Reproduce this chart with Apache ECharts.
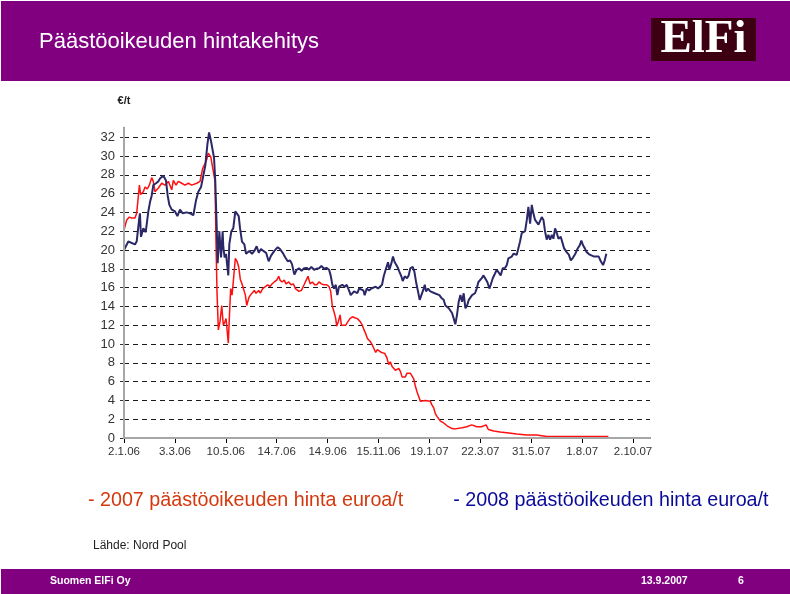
<!DOCTYPE html>
<html><head><meta charset="utf-8">
<script src="https://cdn.jsdelivr.net/npm/echarts@6/dist/echarts.min.js"></script>
<style>html,body{margin:0;padding:0;background:#fff}#c{width:790px;height:594px}</style>
</head><body><div id="c"></div><script>
// x = trading-day index from 2.1.06; labels every 45 trading days
var xTickLabels = ['2.1.06','3.3.06','10.5.06','14.7.06','14.9.06','15.11.06','19.1.07','22.3.07','31.5.07','1.8.07','2.10.07'];
var xTickStep = 45;
var xLastDay = 465;
var yTicks = [0,2,4,6,8,10,12,14,16,18,20,22,24,26,28,30,32];
var yTop = 33;
var name2007 = '2007 päästöoikeuden hinta euroa/t';
var name2008 = '2008 päästöoikeuden hinta euroa/t';

var price2007 = [
[0,22.1],[2.4,23.2],[4.7,23.5],[6.8,23.4],[9.7,23.4],[11.2,23.9],[13.6,26.9],[14.7,25.9],[17.1,26.2],[18.6,26.7],[20.6,26.5],[22.4,26.9],[24.5,27.7],[25.9,27.3],[27.4,26.2],[30.4,26.6],[33.3,27.1],[36.3,26.9],[39.2,27.3],[42.2,26.4],[43.6,27.4],[46.0,26.9],[48.0,27.3],[51.0,27.1],[53.9,26.9],[56.9,27.1],[59.8,26.9],[64.3,27.1],[67.2,27.3],[69.6,28.7],[71.6,29.2],[73.1,29.6],[74.5,30.3],[76.7,29.9],[78.4,29.8],[80.5,27.3],[81.3,20.9],[82.2,15.6],[83.4,11.5],[84.9,12.4],[86.4,14.1],[87.8,12.0],[89.3,12.4],[90.2,12.7],[91.4,12.9],[92.2,10.1],[93.1,12.7],[94.3,15.9],[95.5,15.2],[96.6,16.6],[98.4,19.1],[99.9,18.8],[101.4,18.2],[102.8,16.9],[104.3,16.4],[105.8,16.3],[107.3,15.2],[108.5,14.1],[110.3,14.9],[111.7,15.2],[113.2,15.0],[115.2,15.7],[116.7,15.4],[119.1,15.7],[120.5,15.4],[122.6,15.9],[125.0,16.1],[127.1,16.3],[129.1,16.1],[130.9,16.4],[132.9,16.6],[135.0,16.8],[136.8,17.2],[137.9,16.8],[139.7,16.6],[141.7,16.8],[143.2,16.4],[145.6,16.6],[147.7,16.3],[149.7,16.4],[151.5,15.9],[152.7,15.9],[154.7,15.6],[156.8,15.7],[159.2,16.3],[161.5,16.9],[162.7,17.2],[164.5,16.4],[166.5,16.6],[168.6,16.3],[170.4,16.3],[172.4,16.6],[174.5,16.4],[176.8,16.3],[179.2,16.3],[181.3,16.1],[182.7,15.6],[184.2,14.0],[185.7,13.4],[187.2,12.7],[188.0,11.9],[189.5,12.4],[191.0,13.1],[192.2,12.0],[193.9,12.2],[196.0,12.0],[198.1,12.4],[199.8,12.7],[201.9,12.9],[204.0,12.8],[206.3,12.7],[208.7,12.4],[210.7,12.0],[212.2,11.5],[213.7,11.1],[215.1,10.6],[217.5,10.3],[219.5,9.9],[221.0,9.5],[222.5,9.1],[224.0,9.4],[225.5,9.2],[227.5,9.1],[230.5,9.0],[232.5,8.5],[234.0,7.8],[235.4,8.1],[237.0,7.6],[238.5,7.8],[239.9,7.2],[241.4,7.1],[242.9,7.4],[244.3,7.1],[245.8,6.5],[247.3,6.7],[248.7,6.5],[250.2,6.9],[251.7,6.8],[253.1,6.9],[254.6,6.7],[256.1,6.3],[257.6,5.5],[259.1,4.9],[260.6,4.4],[262.0,3.9],[263.5,4.1],[266.4,4.0],[267.9,4.2],[270.8,3.9],[272.3,3.5],[273.8,3.2],[275.2,2.6],[276.7,2.3],[278.2,2.1],[279.7,1.8],[281.2,1.9],[282.6,1.6],[285.6,1.3],[290.0,1.0],[292.9,0.97],[298.9,1.1],[303.0,1.2],[307.4,1.4],[311.8,1.2],[316.0,1.2],[320.1,1.4],[322.1,0.9],[327.0,0.75],[332.4,0.64],[338.4,0.57],[347.2,0.43],[356.1,0.32],[364.9,0.32],[373.7,0.15],[385.5,0.15],[400.3,0.15],[414.9,0.15],[428.2,0.15]
];

var price2008 = [
[0,20.0],[3.8,20.9],[9.7,20.6],[11.2,20.9],[13.6,23.5],[14.1,23.9],[15.0,21.4],[17.1,22.3],[19.2,21.9],[21.5,24.1],[23.0,25.1],[24.5,25.8],[25.9,26.9],[28.3,27.1],[30.4,27.3],[31.8,27.6],[34.8,27.9],[37.1,27.4],[38.6,25.8],[40.1,24.8],[42.2,24.3],[45.1,24.1],[47.2,23.6],[49.5,24.3],[51.9,23.9],[55.4,24.0],[58.4,23.9],[61.3,23.7],[63.7,25.3],[65.7,26.2],[68.1,26.7],[70.1,27.9],[71.9,29.0],[73.7,31.2],[75.2,32.5],[76.9,31.6],[78.4,31.4],[79.6,29.8],[80.7,27.3],[81.9,22.7],[82.8,18.6],[84.3,22.0],[85.8,19.2],[87.2,22.0],[87.8,20.3],[89.0,19.2],[90.2,19.6],[91.1,18.5],[92.2,17.3],[93.1,20.6],[94.9,22.0],[96.6,22.3],[98.4,24.1],[99.9,23.9],[101.4,23.6],[102.6,22.3],[104.3,20.9],[106.4,20.6],[107.9,19.6],[109.4,19.4],[110.8,19.9],[113.2,19.6],[115.2,19.9],[117.3,20.4],[119.1,19.7],[121.1,20.1],[123.2,19.9],[125.6,19.7],[127.9,18.8],[130.0,19.4],[132.9,19.9],[135.9,20.3],[137.9,20.1],[140.3,19.7],[142.6,19.2],[144.7,18.8],[146.8,18.9],[148.5,18.5],[150.6,17.4],[152.7,17.9],[154.7,18.05],[157.0,17.8],[159.2,18.05],[161.5,18.1],[163.6,17.9],[165.6,18.2],[168.0,17.9],[170.0,18.0],[172.4,18.05],[174.5,18.3],[176.8,18.0],[179.0,18.1],[181.3,17.9],[182.7,17.3],[184.2,16.3],[185.7,15.9],[187.2,16.3],[188.6,15.2],[190.1,16.1],[191.6,15.9],[193.0,16.3],[195.1,16.1],[196.9,16.3],[198.9,15.7],[200.4,15.2],[201.9,15.0],[203.4,15.6],[206.3,15.4],[207.8,15.9],[209.3,16.1],[211.6,15.7],[212.8,15.2],[214.6,15.9],[216.6,15.7],[218.7,15.9],[220.4,15.7],[222.5,16.1],[224.6,15.9],[226.3,16.0],[228.1,16.3],[229.6,17.2],[231.7,18.05],[233.4,18.7],[234.6,17.9],[236.4,18.6],[237.8,19.3],[239.3,18.7],[240.8,18.4],[242.3,18.05],[243.4,17.7],[245.2,17.2],[246.4,16.7],[248.2,17.2],[250.2,17.0],[251.7,17.3],[253.1,18.05],[255.2,18.2],[256.7,17.7],[258.2,16.6],[259.9,15.6],[261.4,14.7],[262.9,15.2],[264.4,15.7],[265.9,16.3],[267.0,15.6],[268.8,15.9],[270.8,15.6],[274.7,15.4],[278.8,15.2],[280.6,14.9],[282.6,14.7],[284.1,14.1],[287.1,13.8],[288.5,13.7],[290.0,13.3],[291.5,12.7],[292.9,12.1],[294.4,13.1],[295.9,14.5],[297.4,15.2],[298.9,14.5],[300.3,15.4],[301.8,13.8],[303.3,14.1],[304.8,14.7],[306.2,14.9],[307.7,15.2],[308.3,15.0],[310.3,15.4],[311.8,15.9],[313.3,16.6],[314.8,16.4],[316.3,17.0],[317.7,17.3],[319.2,17.5],[321.2,16.6],[323.0,15.9],[324.2,16.3],[326.0,17.0],[328.0,17.5],[329.5,17.9],[331.0,17.7],[333.0,17.3],[334.8,18.05],[336.9,18.1],[338.4,18.4],[339.8,19.1],[341.3,18.9],[342.8,19.3],[344.3,19.6],[345.7,19.8],[347.2,19.5],[348.7,20.2],[350.1,20.9],[351.6,21.8],[353.1,22.0],[354.6,22.0],[356.1,23.2],[357.5,24.6],[359.0,22.8],[360.5,24.8],[361.9,23.9],[363.4,23.2],[364.9,23.0],[366.4,22.7],[367.8,22.7],[369.3,23.5],[370.8,23.2],[372.2,22.0],[373.7,21.1],[375.2,21.6],[376.7,21.1],[378.2,21.6],[379.6,21.2],[381.1,22.3],[382.6,21.8],[384.1,21.2],[386.1,21.4],[387.5,21.2],[389.0,20.2],[391.1,19.8],[393.2,19.5],[395.0,18.9],[397.0,19.2],[399.0,19.6],[400.8,20.1],[402.9,20.5],[404.3,21.0],[405.8,20.5],[407.3,20.2],[408.8,19.8],[410.3,19.9],[411.7,19.5],[413.2,19.4],[415.6,19.3],[417.6,19.3],[419.7,19.3],[421.5,18.8],[423.5,18.4],[425.0,18.9],[426.4,19.6]
];

var xTickValues = xTickLabels.map(function (l, i) { return i * xTickStep; });
var FONT = "'Liberation Sans', Arial, sans-serif";
var PURPLE = '#800080';

var chart = echarts.init(document.getElementById('c'), null, {renderer: 'canvas'});
chart.setOption({
  animation: false,
  backgroundColor: '#ffffff',
  grid: {left: 124, right: 140, top: 127.8, bottom: 156, containLabel: false},
  legend: {
    left: 77, top: 486, itemGap: 44, itemWidth: 0, itemHeight: 0,
    selectedMode: false, formatter: '- {name}',
    textStyle: {fontSize: 19.7, fontFamily: FONT},
    data: [
      {name: name2007, textStyle: {color: '#d4380d'}},
      {name: name2008, textStyle: {color: '#0a0a99'}}
    ]
  },
  xAxis: [{
    type: 'value', min: 0, max: xLastDay, interval: xTickStep, position: 'bottom',
    axisLine: {show: true, lineStyle: {color: '#000', width: 1.5}},
    axisTick: {show: true, length: 5, inside: false, customValues: xTickValues, lineStyle: {color: '#000'}},
    axisLabel: {
      margin: 8, color: '#333', fontSize: 11.5, fontFamily: FONT, customValues: xTickValues,
      formatter: function (v) { return v % xTickStep === 0 ? (xTickLabels[v / xTickStep] || '') : ''; }
    },
    splitLine: {show: false}
  }, {
    type: 'value', min: 0, max: xLastDay, position: 'top', z: 5,
    axisLine: {show: true, lineStyle: {color: '#a6a6a6', width: 2}},
    axisTick: {show: false}, axisLabel: {show: false}, splitLine: {show: false}
  }],
  yAxis: [{
    type: 'value', min: 0, max: yTop, interval: 2, position: 'left', z: 3,
    name: '€/t', nameLocation: 'end', nameGap: 21,
    nameTextStyle: {fontSize: 11, fontWeight: 'bold', color: '#222', fontFamily: FONT, align: 'center'},
    axisLine: {show: true, lineStyle: {color: '#000', width: 1.5}},
    axisTick: {show: true, length: 4, customValues: yTicks, lineStyle: {color: '#333'}},
    axisLabel: {
      margin: 9, color: '#333', fontSize: 13, fontFamily: FONT, customValues: yTicks,
      formatter: function (v) { return yTicks.indexOf(v) >= 0 ? String(v) : ''; }
    },
    splitLine: {show: true, lineStyle: {color: '#1a1a1a', width: 1.2, type: [5, 4]}}
  }, {
    type: 'value', min: 0, max: yTop, position: 'right', z: 5,
    axisLine: {show: true, lineStyle: {color: '#a6a6a6', width: 2}},
    axisTick: {show: false}, axisLabel: {show: false}, splitLine: {show: false}
  }],
  series: [{
    name: name2007, type: 'line', data: price2007, xAxisIndex: 0, yAxisIndex: 0,
    symbol: 'none', showSymbol: false, z: 3,
    lineStyle: {color: '#ff1010', width: 1.5}, itemStyle: {color: '#ff1010'}
  }, {
    name: name2008, type: 'line', data: price2008, xAxisIndex: 0, yAxisIndex: 0,
    symbol: 'none', showSymbol: false, z: 4,
    lineStyle: {color: '#2b2868', width: 2}, itemStyle: {color: '#2b2868'}
  }],
  graphic: [
    {type: 'rect', left: 1, top: 1, shape: {width: 789, height: 80}, style: {fill: PURPLE}, z: 0},
    {type: 'text', x: 39, y: 41.5, style: {text: 'Päästöoikeuden hintakehitys', fill: '#fff', font: '22px ' + FONT, textVerticalAlign: 'middle', verticalAlign: 'middle'}, z: 1},
    {type: 'rect', shape: {x: 651, y: 18, width: 105, height: 43}, style: {fill: '#3d0012'}, z: 1},
    {type: 'text', x: 703.5, y: 39.5, style: {text: 'ElFi', fill: '#fff', font: 'bold 47px "Liberation Serif", "Times New Roman", serif', align: 'center', textAlign: 'center', verticalAlign: 'middle', textVerticalAlign: 'middle'}, z: 2},
    {type: 'text', x: 93, y: 545.5, style: {text: 'Lähde: Nord Pool', fill: '#222', font: '12px ' + FONT, verticalAlign: 'middle', textVerticalAlign: 'middle'}},
    {type: 'rect', shape: {x: 1, y: 569, width: 789, height: 25}, style: {fill: PURPLE}, z: 0},
    {type: 'text', x: 50, y: 581, style: {text: 'Suomen ElFi Oy', fill: '#fff', font: 'bold 10.5px ' + FONT, verticalAlign: 'middle', textVerticalAlign: 'middle'}, z: 1},
    {type: 'text', x: 641, y: 581, style: {text: '13.9.2007', fill: '#fff', font: 'bold 10.5px ' + FONT, verticalAlign: 'middle', textVerticalAlign: 'middle'}, z: 1},
    {type: 'text', x: 738, y: 581, style: {text: '6', fill: '#fff', font: 'bold 10.5px ' + FONT, verticalAlign: 'middle', textVerticalAlign: 'middle'}, z: 1}
  ]
});
</script></body></html>
